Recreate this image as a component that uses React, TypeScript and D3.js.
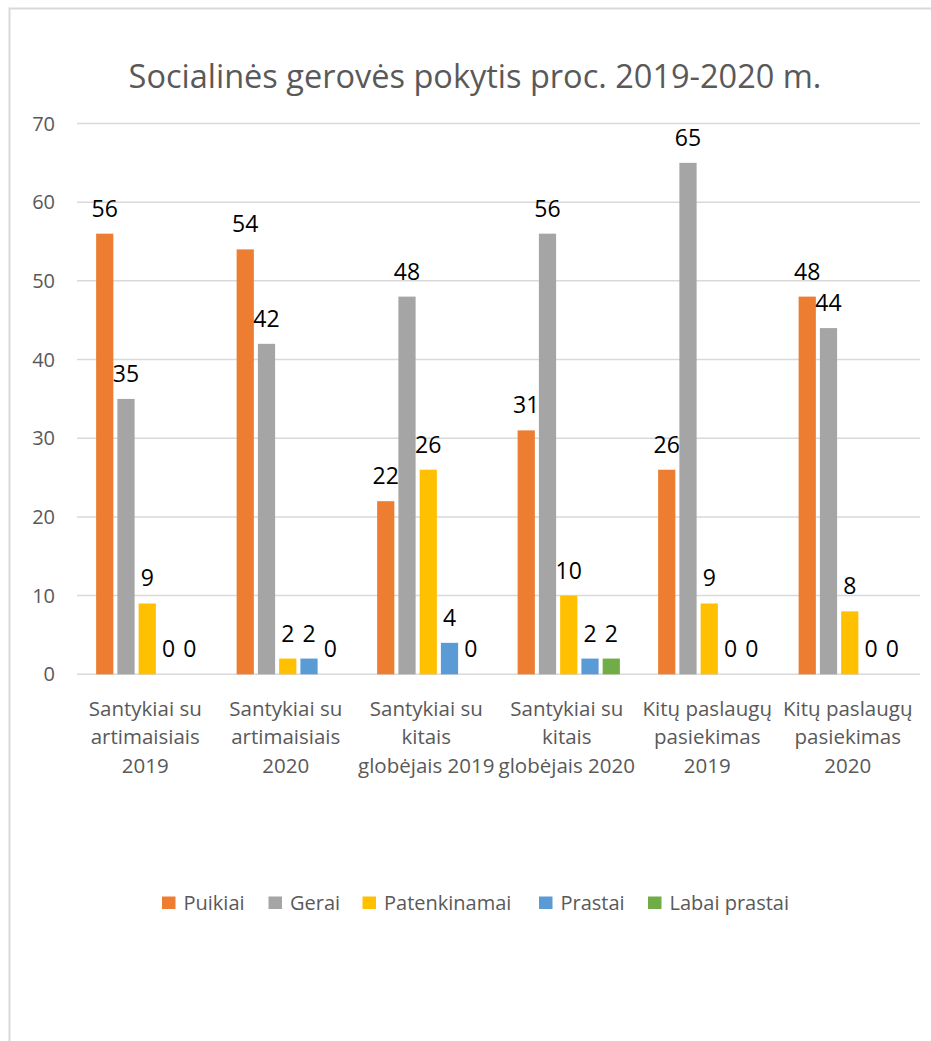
import React from "react";
import * as d3 from "d3";

const title = "Socialinės gerovės pokytis proc. 2019-2020 m.";
const categories = [
  ["Santykiai su", "artimaisiais", "2019"],
  ["Santykiai su", "artimaisiais", "2020"],
  ["Santykiai su", "kitais", "globėjais 2019"],
  ["Santykiai su", "kitais", "globėjais 2020"],
  ["Kitų paslaugų", "pasiekimas", "2019"],
  ["Kitų paslaugų", "pasiekimas", "2020"],
];
const seriesNames = ["Puikiai", "Gerai", "Patenkinamai", "Prastai", "Labai prastai"];
const seriesColors = ["#ED7D31", "#A5A5A5", "#FFC000", "#5B9BD5", "#70AD47"];
const puikiai = [56, 54, 22, 31, 26, 48];
const gerai = [35, 42, 48, 56, 65, 44];
const patenkinamai = [9, 2, 26, 10, 9, 8];
const prastai = [0, 2, 4, 2, 0, 0];
const labaiPrastai = [0, 0, 0, 2, 0, 0];
const seriesValues = [puikiai, gerai, patenkinamai, prastai, labaiPrastai];
const yTicks = [0, 10, 20, 30, 40, 50, 60, 70];

const W = 931;
const H = 1041;
const left = 77;
const right = 920;
const top = 123.5;
const bottom = 674.3;
const font = "'Open Sans', sans-serif";
const textGray = "#595959";

export default function App() {
  const catKeys = categories.map((_, i) => String(i));
  const x0 = d3.scaleBand<string>().domain(catKeys).range([left, right]).padding(0);
  const x1 = d3
    .scaleBand<string>()
    .domain(seriesNames)
    .range([0, x0.bandwidth()])
    .paddingInner(0.19)
    .paddingOuter(0.9);
  const y = d3.scaleLinear().domain([0, 70]).range([bottom, top]);

  // legend layout
  const legendX = [162, 268.5, 362.5, 539, 648];

  return (
    <div style={{ position: "fixed", left: 0, top: 0 }}>
      <svg width={W} height={H} style={{ display: "block", background: "#fff" }}>
        <rect x={9.5} y={8.5} width={W + 20} height={H + 20} fill="#fff" stroke="#d9d9d9" strokeWidth={2} />
        <text x={475} y={88} textAnchor="middle" fontFamily={font} fontSize={32.5} fill={textGray}>
          {title}
        </text>
        {yTicks.map((t) => (
          <g key={t}>
            <line x1={left} x2={right} y1={y(t)} y2={y(t)} stroke="#d9d9d9" strokeWidth={1.5} />
            <text x={55} y={y(t) + 7} textAnchor="end" fontFamily={font} fontSize={20} fill={textGray}>
              {t}
            </text>
          </g>
        ))}
        {catKeys.map((ck, ci) => (
          <g key={ck}>
            {seriesNames.map((s, si) => {
              const v = seriesValues[si][ci];
              const bx = (x0(ck) as number) + (x1(s) as number);
              const bw = x1.bandwidth();
              return (
                <g key={s}>
                  {v > 0 && (
                    <rect x={bx} y={y(v)} width={bw} height={y(0) - y(v)} fill={seriesColors[si]} />
                  )}
                  <text
                    x={bx + bw / 2}
                    y={y(v) - 17}
                    textAnchor="middle"
                    fontFamily={font}
                    fontSize={23}
                    fill="#000"
                  >
                    {v}
                  </text>
                </g>
              );
            })}
            {categories[ci].map((line, li) => (
              <text
                key={li}
                x={(x0(ck) as number) + x0.bandwidth() / 2 - 2}
                y={715.7 + li * 28.7}
                textAnchor="middle"
                fontFamily={font}
                fontSize={20.5}
                fill={textGray}
              >
                {line}
              </text>
            ))}
          </g>
        ))}
        {seriesNames.map((s, si) => (
          <g key={s}>
            <rect x={legendX[si]} y={896.5} width={13.5} height={12.5} fill={seriesColors[si]} />
            <text x={legendX[si] + 21.5} y={910} fontFamily={font} fontSize={20} fill={textGray}>
              {s}
            </text>
          </g>
        ))}
      </svg>
    </div>
  );
}
